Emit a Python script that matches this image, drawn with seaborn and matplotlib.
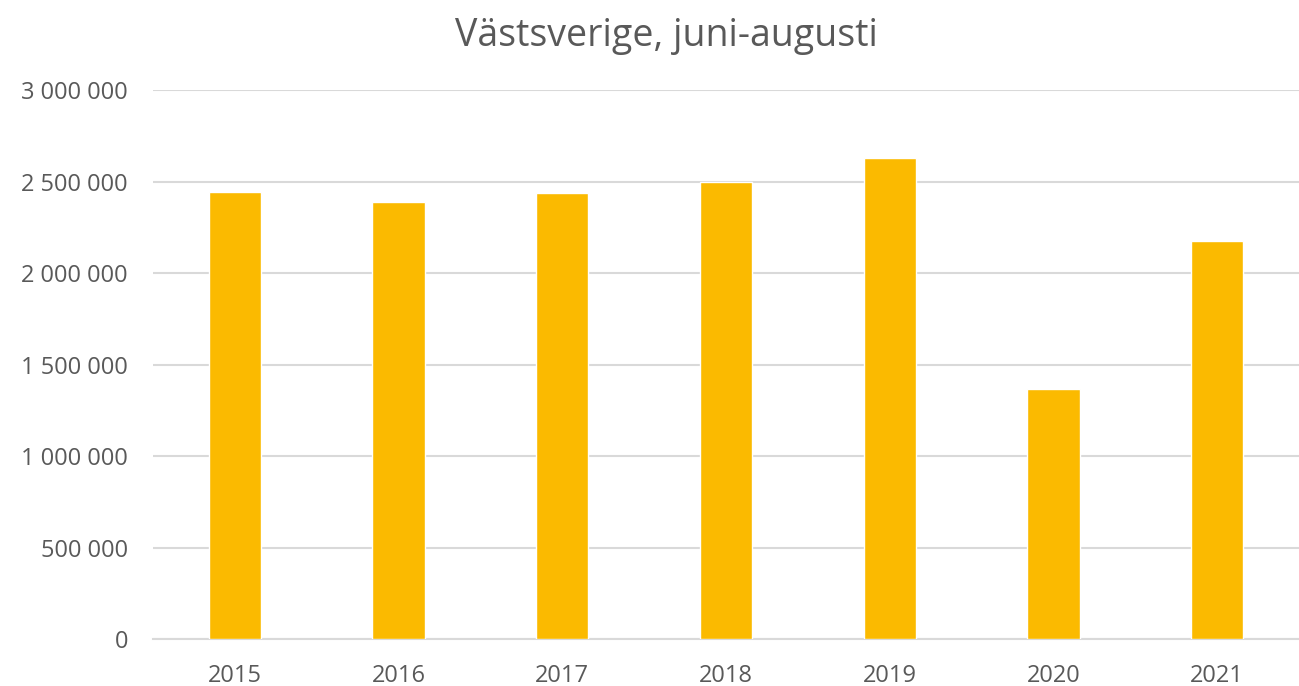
import pandas as pd
import seaborn as sns
import matplotlib.pyplot as plt
from matplotlib.ticker import FuncFormatter, MultipleLocator

# --- DATA ---
years = ["2015", "2016", "2017", "2018", "2019", "2020", "2021"]
guests = [2441000, 2388000, 2439000, 2497000, 2628000, 1366000, 2176000]

title = "Västsverige, juni-augusti"
bar_color = "#FBBA00"
text_color = "#595959"
grid_color = "#D9D9D9"

df = pd.DataFrame({"year": years, "guests": guests})

sns.set_theme(style="white")
plt.rcParams['font.family'] = ['Open Sans', 'DejaVu Sans']

fig = plt.figure(figsize=(12.99, 6.86), dpi=100)
ax = fig.add_axes([0.1178, 0.0685, 0.8822, 0.8003])

sns.barplot(data=df, x="year", y="guests", color=bar_color, saturation=1,
            width=0.32, ax=ax, zorder=3)

ax.set_ylim(0, 3000000)
ax.yaxis.set_major_locator(MultipleLocator(500000))
ax.yaxis.set_major_formatter(FuncFormatter(lambda v, p: f"{int(v):,}".replace(",", " ")))
ax.grid(axis="y", color=grid_color, linewidth=1.5, zorder=0)
ax.set_axisbelow(True)

for side in ["top", "right", "left"]:
    ax.spines[side].set_visible(False)
ax.spines["bottom"].set_color(grid_color)
ax.spines["bottom"].set_linewidth(1.5)

ax.tick_params(axis="both", length=0, labelsize=17, colors=text_color)
ax.tick_params(axis="y", pad=18)
ax.tick_params(axis="x", pad=18)
ax.set_xlabel("")
ax.set_ylabel("")

fig.text(0.513, 0.947, title, ha="center", va="center", fontsize=27, color=text_color)

fig.savefig("out.png", dpi=100)
